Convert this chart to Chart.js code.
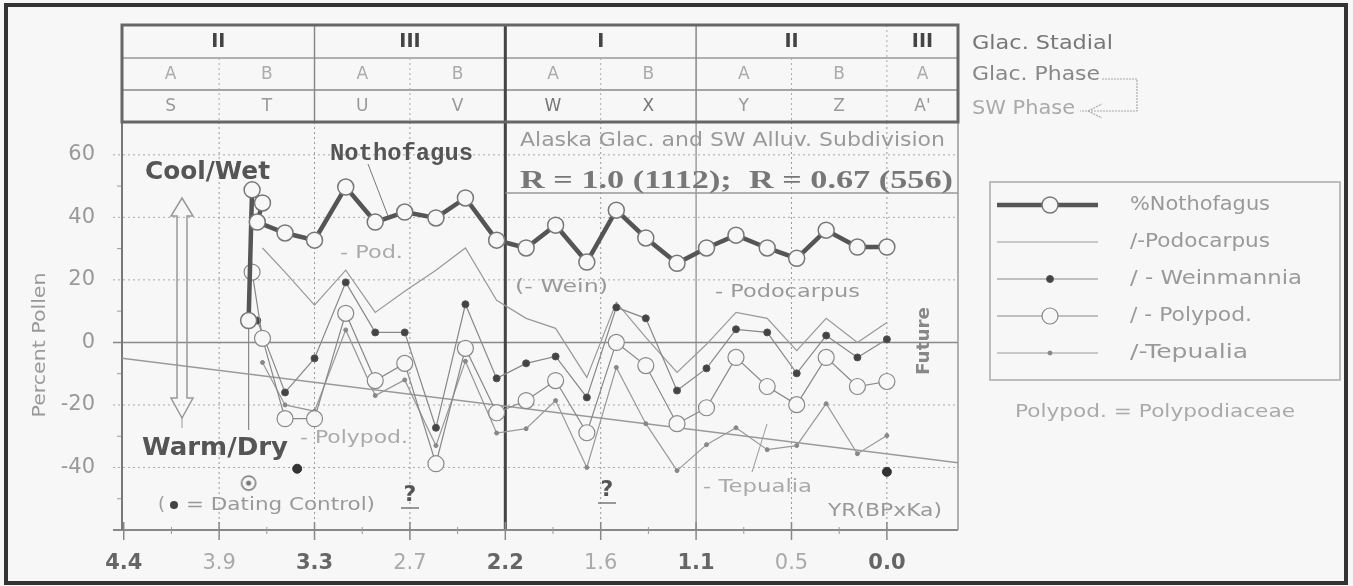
<!DOCTYPE html>
<html>
<head>
<meta charset="utf-8">
<script src="https://cdn.jsdelivr.net/npm/chart.js@4/dist/chart.umd.min.js"></script>
<style>
  html, body { margin: 0; padding: 0; background: #f7f7f7; }
</style>
</head>
<body>
<canvas id="pollenChart" width="1353" height="586"></canvas>
<script>
// ages in ka BP, values in percent pollen (deviation)
const TICK_AGES = [4.4, 3.85, 3.3, 2.75, 2.2, 1.65, 1.1, 0.55, 0.0];
const TICK_LABELS = ["4.4", "3.9", "3.3", "2.7", "2.2", "1.6", "1.1", "0.5", "0.0"];
const Y_TICKS = [60, 40, 20, 0, -20, -40];

const AGES = [3.47, 3.30, 3.12, 2.95, 2.78, 2.60, 2.43, 2.25, 2.08, 1.91, 1.73,
              1.56, 1.39, 1.21, 1.04, 0.87, 0.69, 0.52, 0.35, 0.17, 0.00];

const NOTHO_HEAD_AGES = [3.68, 3.66, 3.60, 3.63];
const NOTHO_HEAD = [7, 48.8, 44.6, 38.5];
const NOTHO = [35.0, 32.7, 49.7, 38.5, 41.7, 39.8, 46.2, 32.7, 30.2, 37.5, 25.7,
               42.3, 33.4, 25.3, 30.2, 34.3, 30.2, 26.9, 35.9, 30.5, 30.5];

const PODO_HEAD_AGES = [3.60];
const PODO_HEAD = [30.2];
const PODO = [22.5, 11.9, 23.1, 9.6, 16.4, 23.1, 30.2, 13.5, 7.7, 4.5, -11.2,
              12.8, 1.6, -9.6, -0.6, 9.6, 7.7, -2.6, 7.7, 0.0, 6.4];

const WEIN_HEAD_AGES = [3.68, 3.63];
const WEIN_HEAD = [7.5, 7.0];
const WEIN = [-16.0, -5.1, 19.2, 3.2, 3.2, -27.3, 12.2, -11.5, -6.7, -4.5, -17.6,
              11.2, 7.7, -15.4, -8.3, 4.2, 3.2, -9.9, 2.2, -4.8, 1.0];

const POLY_HEAD_AGES = [3.66, 3.60];
const POLY_HEAD = [22.5, 1.3];
const POLY = [-24.4, -24.4, 9.3, -12.2, -6.7, -38.8, -1.9, -22.5, -18.6, -12.2, -28.9,
              0.0, -7.4, -26.0, -20.9, -4.8, -14.1, -19.9, -4.8, -14.1, -12.5];

const TEPU_HEAD_AGES = [3.60];
const TEPU_HEAD = [-6.4];
const TEPU = [-20.0, -22.0, 4.0, -17.0, -12.0, -33.0, -6.0, -29.0, -27.6, -18.6, -40.0,
              -8.0, -26.0, -41.0, -32.7, -27.3, -34.3, -33.0, -19.6, -35.6, -29.8];

const TREND_AGES = [4.41, -0.41];
const TREND = [-5.1, -38.5];

const DATING_AGES = [3.40, 0.00];
const DATING = [-40.4, -41.4];

// dated level marker and its guide line
const DATED_AGE = 3.68;
const DATED_LEVEL = -45;
const DATED_GUIDE = [5, -28];

const STADIALS = ["II", "III", "I", "II", "III"];
const STADIAL_SPANS = [2, 2, 2, 2, 1];
const PHASES = ["A", "B", "A", "B", "A", "B", "A", "B", "A"];
const SW_PHASES = ["S", "T", "U", "V", "W", "X", "Y", "Z", "A'"];

const LEGEND_NAMES = ["%Nothofagus", "/-Podocarpus", "/ - Weinmannia", "/ - Polypod.", "/-Tepualia"];

function pts(ages, vals) {
  return ages.map((a, i) => ({ x: a, y: vals[i] }));
}
function series(headAges, head, vals) {
  return pts(headAges, head).concat(pts(AGES, vals));
}

// hollow circle with a centre dot
const ringDot = document.createElement("canvas");
ringDot.width = 18; ringDot.height = 18;
(function () {
  const c = ringDot.getContext("2d");
  c.strokeStyle = "#777"; c.lineWidth = 1.5;
  c.beginPath(); c.arc(9, 9, 7, 0, Math.PI * 2); c.stroke();
  c.fillStyle = "#777";
  c.beginPath(); c.arc(9, 9, 2.5, 0, Math.PI * 2); c.fill();
})();

const FONT = "'DejaVu Sans', sans-serif";

function txt(ctx, s, x, y, font, color, align, w) {
  ctx.save();
  ctx.font = font;
  ctx.fillStyle = color;
  ctx.textAlign = align || "left";
  ctx.textBaseline = "middle";
  ctx.translate(x, y);
  if (w) ctx.scale(w / ctx.measureText(s).width, 1);
  ctx.fillText(s, 0, 0);
  ctx.restore();
}

function line(ctx, x1, y1, x2, y2, color, width, dash) {
  ctx.save();
  ctx.strokeStyle = color;
  ctx.lineWidth = width;
  ctx.setLineDash(dash || []);
  ctx.beginPath();
  ctx.moveTo(x1, y1);
  ctx.lineTo(x2, y2);
  ctx.stroke();
  ctx.restore();
}

const DOT = [2, 3];

const decorations = {
  id: "decorations",
  beforeDraw(chart) {
    const ctx = chart.ctx;
    ctx.save();
    ctx.fillStyle = "#f7f7f7";
    ctx.fillRect(0, 0, chart.width, chart.height);
    ctx.restore();
  },
  beforeDatasetsDraw(chart) {
    const ctx = chart.ctx;
    const a = chart.chartArea;
    const sx = chart.scales.x, sy = chart.scales.y;
    // horizontal grid
    Y_TICKS.forEach(v => {
      const y = sy.getPixelForValue(v);
      if (v === 0) line(ctx, a.left - 9, y, a.right, y, "#888", 1.5);
      else line(ctx, a.left - 9, y, a.right, y, "#aaa", 1, DOT);
    });
    for (let v = -50; v <= 60; v += 20) {
      const y = sy.getPixelForValue(v);
      line(ctx, a.left - 5, y, a.left, y, "#999", 1);
    }
    // vertical grid
    TICK_AGES.forEach((t, i) => {
      if (i === 0) return;
      const x = sx.getPixelForValue(t);
      if (t === 2.2) line(ctx, x, a.top, x, a.bottom, "#444", 3);
      else if (t === 1.1) line(ctx, x, a.top, x, a.bottom, "#888", 1.2);
      else line(ctx, x, a.top, x, a.bottom, "#999", 1, DOT);
    });
    // x axis with ticks
    line(ctx, a.left - 9, a.bottom, a.right, a.bottom, "#888", 2);
    TICK_AGES.forEach((t, i) => {
      const x = sx.getPixelForValue(t);
      line(ctx, x, a.bottom - 8, x, a.bottom + 10, "#888", 1.5);
      if (i < TICK_AGES.length - 1) {
        const m = sx.getPixelForValue((t + TICK_AGES[i + 1]) / 2);
        line(ctx, m, a.bottom - 3, m, a.bottom + 4, "#999", 1);
      }
    });
    // plot frame
    line(ctx, a.left, a.top, a.left, a.bottom, "#777", 2);
    line(ctx, a.right, a.top, a.right, a.bottom, "#999", 1.5);
    // box under the correlation text
    line(ctx, sx.getPixelForValue(2.2), 193, a.right, 193, "#999", 1.5);
    // guide from the dated level
    const gx = sx.getPixelForValue(DATED_AGE);
    line(ctx, gx, sy.getPixelForValue(DATED_GUIDE[0]), gx, sy.getPixelForValue(DATED_GUIDE[1]), "#888", 1.2);
  },
  afterDatasetsDraw(chart) {
    const ctx = chart.ctx;
    const a = chart.chartArea;
    const sx = chart.scales.x;
    const X = v => sx.getPixelForValue(v);

    // stadial / phase table
    const bounds = [a.left].concat(TICK_AGES.slice(1).map(X), [a.right]);
    const t0 = 25, r1 = 58, r2 = 90, t1 = a.top;
    ctx.save();
    ctx.fillStyle = "#f7f7f7";
    ctx.fillRect(a.left, t0, a.right - a.left, t1 - t0);
    ctx.restore();
    line(ctx, a.left, r1, a.right, r1, "#999", 1.5);
    line(ctx, a.left, r2, a.right, r2, "#888", 1.5);
    let col = 0;
    STADIALS.forEach((s, i) => {
      const x0 = bounds[col], x1 = bounds[col + STADIAL_SPANS[i]];
      txt(ctx, s, (x0 + x1) / 2, 42, "bold 19px " + FONT, "#444", "center");
      col += STADIAL_SPANS[i];
    });
    for (let i = 1; i < bounds.length - 1; i++) {
      const x = bounds[i];
      const age = TICK_AGES[i];
      if (age === 2.2) line(ctx, x, t0, x, t1, "#444", 3);
      else if (age === 3.3 || age === 1.1) line(ctx, x, t0, x, t1, "#888", 1.5);
      else if (age === 0.0) line(ctx, x, t0, x, t1, "#aaa", 1, DOT);
      else line(ctx, x, r1, x, t1, "#aaa", 1, DOT);
    }
    PHASES.forEach((p, i) => {
      txt(ctx, p, (bounds[i] + bounds[i + 1]) / 2, 75, "17px " + FONT, "#aaa", "center");
    });
    SW_PHASES.forEach((p, i) => {
      txt(ctx, p, (bounds[i] + bounds[i + 1]) / 2, 107, "17px " + FONT, i === 4 || i === 5 ? "#777" : "#999", "center");
    });
    ctx.save();
    ctx.strokeStyle = "#666";
    ctx.lineWidth = 3;
    ctx.strokeRect(a.left, t0, a.right - a.left, t1 - t0);
    ctx.restore();

    // table key on the right
    txt(ctx, "Glac. Stadial", 972, 44, "19px " + FONT, "#777", "left", 141);
    txt(ctx, "Glac. Phase", 972, 75, "19px " + FONT, "#888", "left", 128);
    txt(ctx, "SW Phase", 972, 109, "19px " + FONT, "#aaa", "left", 103);
    ctx.save();
    ctx.strokeStyle = "#aaa"; ctx.lineWidth = 1.2; ctx.setLineDash([2, 1]);
    ctx.beginPath();
    ctx.moveTo(1102, 79); ctx.lineTo(1137, 79); ctx.lineTo(1137, 111); ctx.lineTo(1080, 111);
    ctx.moveTo(1088, 111); ctx.lineTo(1102, 104);
    ctx.moveTo(1088, 111); ctx.lineTo(1102, 118);
    ctx.stroke();
    ctx.restore();

    // annotations in the plot
    txt(ctx, "Alaska Glac. and SW Alluv. Subdivision", 520, 141, "19px " + FONT, "#999", "left", 425);
    txt(ctx, "R = 1.0 (1112);  R = 0.67 (556)", 520, 182, "bold 25px 'Liberation Serif', serif", "#777", "left", 433);
    txt(ctx, "Cool/Wet", 145, 172, "bold 25px " + FONT, "#555", "left", 125);
    txt(ctx, "Warm/Dry", 142, 448, "bold 25px " + FONT, "#555", "left", 146);
    txt(ctx, "Nothofagus", 330, 154, "bold 24px 'Liberation Mono', monospace", "#555", "left", 143);
    line(ctx, 368, 164, 388, 216, "#777", 1);
    txt(ctx, "- Pod.", 340, 253, "18px " + FONT, "#aaa", "left", 63);
    txt(ctx, "(- Wein)", 515, 287, "18px " + FONT, "#999", "left", 93);
    txt(ctx, "- Podocarpus", 715, 292, "18px " + FONT, "#999", "left", 145);
    txt(ctx, "- Polypod.", 300, 438, "18px " + FONT, "#aaa", "left", 108);
    txt(ctx, "- Tepualia", 703, 487, "18px " + FONT, "#aaa", "left", 109);
    line(ctx, 752, 472, 767, 424, "#999", 1);
    txt(ctx, "YR(BPxKa)", 828, 511, "18px " + FONT, "#999", "left", 114);
    txt(ctx, "(", 158, 505, "18px " + FONT, "#999", "left");
    ctx.save();
    ctx.fillStyle = "#444";
    ctx.beginPath(); ctx.arc(174, 505, 4, 0, Math.PI * 2); ctx.fill();
    ctx.restore();
    txt(ctx, "= Dating Control)", 186, 505, "18px " + FONT, "#999", "left", 189);
    [[410, 495], [607, 490]].forEach(([x, y]) => {
      txt(ctx, "?", x, y, "bold 22px " + FONT, "#555", "center");
      line(ctx, x - 9, y + 13, x + 9, y + 13, "#777", 1.5);
    });

    // rotated labels
    ctx.save();
    ctx.translate(40, 345);
    ctx.rotate(-Math.PI / 2);
    txt(ctx, "Percent Pollen", 0, 0, "18px " + FONT, "#999", "center", 145);
    ctx.restore();
    ctx.save();
    ctx.translate(924, 341);
    ctx.rotate(-Math.PI / 2);
    txt(ctx, "Future", 0, 0, "bold 18px " + FONT, "#888", "center", 68);
    ctx.restore();

    // cool/wet - warm/dry double arrow
    ctx.save();
    ctx.strokeStyle = "#999"; ctx.lineWidth = 1.5;
    ctx.beginPath();
    ctx.moveTo(182, 198); ctx.lineTo(193, 216); ctx.lineTo(187, 216); ctx.lineTo(187, 398);
    ctx.lineTo(193, 398); ctx.lineTo(182, 418); ctx.lineTo(171, 398); ctx.lineTo(177, 398);
    ctx.lineTo(177, 216); ctx.lineTo(171, 216); ctx.closePath();
    ctx.stroke();
    ctx.restore();
    line(ctx, 182, 418, 182, 428, "#999", 1);

    // legend
    const lx0 = 990, lx1 = 1340;
    ctx.save();
    ctx.strokeStyle = "#aaa"; ctx.lineWidth = 1.5;
    ctx.strokeRect(lx0, 182, lx1 - lx0, 198);
    ctx.restore();
    const legendRows = [205, 242, 279, 316, 353];
    const order = [0, 3, 2, 1, 4];
    const widths = [140, 140, 172, 122, 118];
    legendRows.forEach((ly, i) => {
      const ds = chart.data.datasets[order[i]];
      line(ctx, 997, ly, 1098, ly, ds.borderColor, ds.borderWidth);
      if (ds.pointRadius > 0) {
        ctx.save();
        ctx.fillStyle = ds.pointBackgroundColor;
        ctx.strokeStyle = ds.pointBorderColor;
        ctx.lineWidth = ds.pointBorderWidth;
        ctx.beginPath();
        ctx.arc(1050, ly, ds.pointRadius, 0, Math.PI * 2);
        ctx.fill(); ctx.stroke();
        ctx.restore();
      }
      txt(ctx, LEGEND_NAMES[i], 1130, ly, "19px " + FONT, "#999", "left", widths[i]);
    });
    txt(ctx, "Polypod. = Polypodiaceae", 1015, 412, "18px " + FONT, "#aaa", "left", 280);

    // outer frame
    ctx.save();
    ctx.strokeStyle = "#333"; ctx.lineWidth = 4;
    ctx.strokeRect(6, 5, 1340, 578);
    ctx.restore();
  }
};

new Chart(document.getElementById("pollenChart"), {
  type: "line",
  data: {
    datasets: [
      {
        label: "%Nothofagus",
        data: series(NOTHO_HEAD_AGES, NOTHO_HEAD, NOTHO),
        borderColor: "#555", borderWidth: 4.5,
        pointRadius: 8, pointBackgroundColor: "#f7f7f7", pointBorderColor: "#777", pointBorderWidth: 1.5
      },
      {
        label: "/ - Polypod.",
        data: series(POLY_HEAD_AGES, POLY_HEAD, POLY),
        borderColor: "#888", borderWidth: 1.2,
        pointRadius: 8, pointBackgroundColor: "#f7f7f7", pointBorderColor: "#888", pointBorderWidth: 1.2
      },
      {
        label: "/ - Weinmannia",
        data: series(WEIN_HEAD_AGES, WEIN_HEAD, WEIN),
        borderColor: "#888", borderWidth: 1.2,
        pointRadius: 3.5, pointBackgroundColor: "#444", pointBorderColor: "#555", pointBorderWidth: 1
      },
      {
        label: "/-Podocarpus",
        data: series(PODO_HEAD_AGES, PODO_HEAD, PODO),
        borderColor: "#999", borderWidth: 1.2, pointRadius: 0
      },
      {
        label: "/-Tepualia",
        data: series(TEPU_HEAD_AGES, TEPU_HEAD, TEPU),
        borderColor: "#999", borderWidth: 1.2,
        pointRadius: 2, pointBackgroundColor: "#888", pointBorderColor: "#888", pointBorderWidth: 1
      },
      {
        label: "trend",
        data: pts(TREND_AGES, TREND),
        borderColor: "#999", borderWidth: 1.5, pointRadius: 0
      },
      {
        label: "dating",
        data: pts(DATING_AGES, DATING),
        showLine: false,
        pointRadius: 4.5, pointBackgroundColor: "#333", pointBorderColor: "#333"
      },
      {
        label: "dated level",
        data: [{ x: DATED_AGE, y: DATED_LEVEL }],
        showLine: false,
        pointStyle: ringDot
      }
    ]
  },
  options: {
    responsive: false,
    animation: false,
    layout: { padding: { left: 0, top: 122, right: 395, bottom: 0 } },
    plugins: { legend: { display: false }, tooltip: { enabled: false } },
    scales: {
      x: {
        type: "linear",
        reverse: true,
        min: -0.41,
        max: 4.41,
        afterFit(axis) { axis.height = 56; },
        afterBuildTicks(axis) { axis.ticks = TICK_AGES.map(v => ({ value: v })); },
        grid: { display: false },
        border: { display: false },
        ticks: {
          padding: 13,
          maxRotation: 0,
          autoSkip: false,
          callback: (v) => TICK_LABELS[TICK_AGES.indexOf(v)],
          color: (c) => (c.index % 2 ? "#aaa" : "#666"),
          font: (c) => ({ family: "'DejaVu Sans', sans-serif", size: 21, weight: c.index % 2 ? "normal" : "bold" })
        }
      },
      y: {
        min: -60,
        max: 70.5,
        afterFit(axis) { axis.width = 122; },
        afterBuildTicks(axis) { axis.ticks = Y_TICKS.map(v => ({ value: v })); },
        grid: { display: false },
        border: { display: false },
        ticks: {
          padding: 19,
          color: "#999",
          font: { family: "'DejaVu Sans', sans-serif", size: 21 }
        }
      }
    }
  },
  plugins: [decorations]
});
</script>
</body>
</html>
